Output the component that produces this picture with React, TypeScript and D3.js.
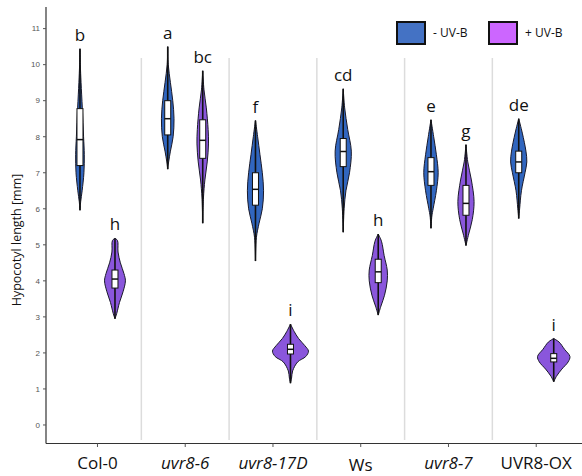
import React from "react";
import * as d3 from "d3";

const groups = ["Col-0", "uvr8-6", "uvr8-17D", "Ws", "uvr8-7", "UVR8-OX"];
const italicGroups = ["uvr8-6", "uvr8-17D", "uvr8-7"];
const treatments = ["- UV-B", "+ UV-B"];
const yTicks = [0, 1, 2, 3, 4, 5, 6, 7, 8, 9, 10, 11];

// density profiles: [value, relative half width]
const profiles: [number, number][][][] = [
  [
    [[10.44, 0], [10, 0.02], [9.5, 0.06], [8.8, 0.13], [8, 0.2], [7.5, 0.24], [7, 0.22], [6.5, 0.12], [6.2, 0.04], [5.96, 0]],
    [[5.18, 0], [5.12, 0.14], [4.8, 0.17], [4.5, 0.3], [4.2, 0.5], [4.0, 0.58], [3.7, 0.45], [3.4, 0.25], [3.1, 0.1], [2.95, 0]],
  ],
  [
    [[10.5, 0], [10, 0.03], [9.5, 0.15], [9, 0.28], [8.5, 0.35], [8, 0.3], [7.6, 0.15], [7.3, 0.05], [7.1, 0]],
    [[9.83, 0], [9.3, 0.07], [8.8, 0.2], [8.2, 0.3], [7.8, 0.32], [7.3, 0.25], [6.8, 0.12], [6.3, 0.04], [5.6, 0]],
  ],
  [
    [[8.45, 0], [8, 0.12], [7.5, 0.25], [7, 0.38], [6.5, 0.45], [6, 0.38], [5.6, 0.2], [5.2, 0.05], [4.55, 0]],
    [[2.8, 0], [2.6, 0.2], [2.4, 0.45], [2.2, 0.8], [2.05, 1.0], [1.9, 0.85], [1.75, 0.4], [1.5, 0.12], [1.3, 0.06], [1.16, 0]],
  ],
  [
    [[9.33, 0], [8.8, 0.08], [8.2, 0.25], [7.6, 0.45], [7.0, 0.35], [6.5, 0.15], [6, 0.05], [5.35, 0]],
    [[5.3, 0], [5.1, 0.18], [4.7, 0.33], [4.3, 0.5], [4.0, 0.5], [3.6, 0.35], [3.3, 0.15], [3.05, 0]],
  ],
  [
    [[8.47, 0], [8, 0.15], [7.5, 0.3], [7, 0.4], [6.5, 0.3], [6, 0.12], [5.8, 0.05], [5.46, 0]],
    [[7.78, 0], [7.3, 0.1], [6.8, 0.3], [6.2, 0.45], [5.7, 0.35], [5.3, 0.15], [4.98, 0]],
  ],
  [
    [[8.5, 0], [8.1, 0.2], [7.6, 0.4], [7.3, 0.45], [7.0, 0.35], [6.5, 0.15], [6.0, 0.05], [5.73, 0]],
    [[2.4, 0], [2.3, 0.3], [2.1, 0.6], [1.9, 0.9], [1.75, 0.8], [1.55, 0.45], [1.35, 0.15], [1.2, 0]],
  ],
];

// box stats: [q1, median, q3]
const boxStats: [number, number, number][][] = [
  [[7.2, 7.92, 8.78], [3.8, 4.05, 4.3]],
  [[8.05, 8.5, 9.0], [7.4, 7.9, 8.47]],
  [[6.1, 6.54, 7.0], [1.97, 2.1, 2.24]],
  [[7.17, 7.59, 7.95], [3.95, 4.25, 4.6]],
  [[6.65, 7.03, 7.42], [5.82, 6.15, 6.65]],
  [[7.0, 7.3, 7.6], [1.75, 1.85, 1.98]],
];

const letters = [["b", "h"], ["a", "bc"], ["f", "i"], ["cd", "h"], ["e", "g"], ["de", "i"]];

const violinFill = ["#3166bf", "#8a56dc"];
const legendFill = ["#4472c4", "#cc66ff"];

export default function App() {
  const W = 582, H = 476;
  const y = d3.scaleLinear().domain([-0.5, 11.6]).range([443, 7]);
  const x = d3.scaleBand<string>().domain(groups).range([53.6, 580.1]).padding(0);
  const off = d3.scaleOrdinal<string, number>().domain(treatments).range([-17.5, 17.5]);
  const wScale = d3.scaleLinear().domain([0, 1]).range([0, 18]);
  const font = "'Open Sans', 'Noto Sans', sans-serif";

  return (
    <svg width={W} height={H} style={{ position: "absolute", left: 0, top: 0, background: "#fff" }}>
      {/* separators */}
      {groups.slice(1).map((g) => (
        <line key={g} x1={x(g)!} x2={x(g)!} y1={58} y2={440} stroke="#dcdcdc" strokeWidth={1.5} />
      ))}
      {/* axes */}
      <line x1={46} x2={582} y1={443.5} y2={443.5} stroke="#333" strokeWidth={1.2} />
      <line x1={46} x2={46} y1={7} y2={443.5} stroke="#333" strokeWidth={1.2} />
      {yTicks.map((t) => (
        <g key={t}>
          <line x1={43} x2={46} y1={y(t)} y2={y(t)} stroke="#555" strokeWidth={1} />
          <text x={40} y={y(t)} dy="0.35em" textAnchor="end" fontSize={8} fill="#555" fontFamily="Arial, 'Liberation Sans', sans-serif">{t}</text>
        </g>
      ))}
      {groups.map((g) => {
        const cx = x(g)! + x.bandwidth() / 2;
        return (
          <g key={g}>
            <line x1={cx} x2={cx} y1={443.5} y2={447} stroke="#555" strokeWidth={1} />
            <text x={cx} y={g === "Ws" ? 471 : 469} textAnchor="middle" fontSize={17} fontFamily={font}
              fontStyle={italicGroups.includes(g) ? "italic" : "normal"} fill="#111">{g}</text>
          </g>
        );
      })}
      <text transform={`translate(17,240) rotate(-90)`} textAnchor="middle" dy="0.35em" fontSize={12.5} fontFamily={font} fill="#111">Hypocotyl length [mm]</text>

      {/* violins */}
      {groups.map((g, gi) =>
        treatments.map((tr, ti) => {
          const cx = x(g)! + x.bandwidth() / 2 + off(tr);
          const prof = profiles[gi][ti];
          const area = d3.area<[number, number]>()
            .y((d) => y(d[0]))
            .x0((d) => cx - wScale(d[1]))
            .x1((d) => cx + wScale(d[1]))
            .curve(d3.curveCatmullRom);
          const [q1, med, q3] = boxStats[gi][ti];
          const vmax = prof[0][0], vmin = prof[prof.length - 1][0];
          return (
            <g key={g + tr}>
              <path d={area(prof) || ""} fill={violinFill[ti]} stroke="#1a1a2a" strokeWidth={1} />
              <line x1={cx} x2={cx} y1={y(vmax)} y2={y(vmin)} stroke="#111" strokeWidth={1.6} />
              <rect x={cx - 3} y={y(q3)} width={6} height={y(q1) - y(q3)} fill="#fff" stroke="#111" strokeWidth={1} />
              <line x1={cx - 3} x2={cx + 3} y1={y(med)} y2={y(med)} stroke="#111" strokeWidth={1.5} />
              <text x={cx} y={y(vmax) - 8} textAnchor="middle" fontSize={17} fontFamily={font} fill="#111">{letters[gi][ti]}</text>
            </g>
          );
        })
      )}

      {/* legend */}
      {treatments.map((tr, i) => (
        <g key={tr} transform={`translate(${i === 0 ? 397 : 489},22)`}>
          <rect x={0} y={0} width={28} height={22} fill={legendFill[i]} stroke="#111" strokeWidth={2} />
          <text x={36} y={11} dy="0.35em" fontSize={12} fontFamily={font} fill="#111">{tr}</text>
        </g>
      ))}
    </svg>
  );
}
